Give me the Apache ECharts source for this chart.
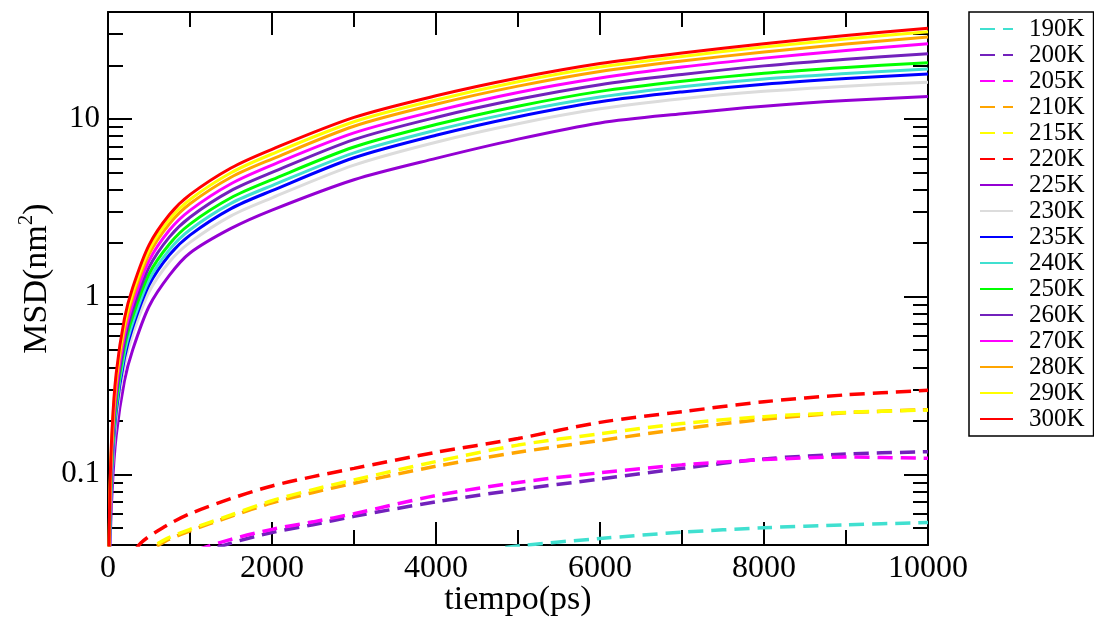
<!DOCTYPE html>
<html><head><meta charset="utf-8">
<script src="https://cdn.jsdelivr.net/npm/echarts@6/dist/echarts.min.js"></script>
<style>html,body{margin:0;padding:0;background:#fff}#c{width:1094px;height:618px}</style>
</head><body><div id="c"></div>
<script>
// ---------- data ----------
const labels = ['190K','200K','205K','210K','215K','220K','225K','230K','235K','240K','250K','260K','270K','280K','290K','300K'];
const yTickLabels = ['0.1','1','10'];
const tDashed = [200, 400, 700, 1000, 1500, 2000, 2500, 3000, 4000, 5000, 6000, 7000, 8000, 9000, 10000];
const tSolid  = [5, 20, 50, 100, 200, 300, 500, 750, 1000, 1500, 2000, 3000, 4000, 5000, 6000, 7000, 8000, 9000, 10000];

const v190K = [0.008, 0.011, 0.015, 0.018, 0.022, 0.025, 0.028, 0.030, 0.034, 0.0395, 0.0435, 0.0472, 0.050, 0.052, 0.0535];
const v200K = [0.017, 0.022, 0.028, 0.034, 0.041, 0.047, 0.052, 0.058, 0.070, 0.082, 0.094, 0.108, 0.122, 0.130, 0.134];
const v205K = [0.018, 0.023, 0.029, 0.036, 0.043, 0.049, 0.054, 0.060, 0.076, 0.090, 0.102, 0.113, 0.121, 0.125, 0.123];
const v210K = [0.026, 0.034, 0.042, 0.048, 0.058, 0.069, 0.079, 0.089, 0.111, 0.133, 0.155, 0.180, 0.204, 0.222, 0.231];
const v215K = [0.027, 0.035, 0.043, 0.049, 0.059, 0.071, 0.082, 0.093, 0.118, 0.146, 0.169, 0.193, 0.211, 0.223, 0.230];
const v220K = [0.030, 0.041, 0.051, 0.060, 0.073, 0.086, 0.097, 0.108, 0.133, 0.159, 0.196, 0.225, 0.256, 0.280, 0.297];

const v225K = [0.008, 0.031, 0.08, 0.165, 0.335, 0.50, 0.88, 1.32, 1.76, 2.42, 3.07, 4.55, 6.0, 7.7, 9.5, 10.7, 11.8, 12.7, 13.4];
const v230K = [0.010, 0.039, 0.10, 0.205, 0.41, 0.61, 1.06, 1.57, 2.02, 2.85, 3.6, 5.5, 7.4, 9.4, 11.4, 13.0, 14.3, 15.3, 16.1];
const v235K = [0.011, 0.043, 0.11, 0.225, 0.45, 0.67, 1.16, 1.72, 2.22, 3.13, 3.95, 6.05, 8.1, 10.3, 12.5, 14.2, 15.7, 16.9, 17.9];
const v240K = [0.0115, 0.046, 0.118, 0.24, 0.48, 0.71, 1.24, 1.84, 2.38, 3.35, 4.22, 6.45, 8.65, 11.0, 13.3, 15.2, 16.8, 18.0, 19.1];
const v250K = [0.012, 0.049, 0.126, 0.255, 0.52, 0.77, 1.34, 1.98, 2.56, 3.6, 4.55, 6.95, 9.3, 11.8, 14.3, 16.3, 18.1, 19.5, 20.7];
const v260K = [0.013, 0.053, 0.137, 0.28, 0.56, 0.84, 1.46, 2.17, 2.8, 3.95, 5.0, 7.65, 10.2, 12.9, 15.6, 17.8, 19.9, 21.7, 23.3];
const v270K = [0.014, 0.057, 0.148, 0.30, 0.61, 0.91, 1.59, 2.37, 3.06, 4.32, 5.5, 8.35, 11.1, 14.1, 17.0, 19.6, 22.0, 24.3, 26.5];
const v280K = [0.0155, 0.062, 0.16, 0.33, 0.66, 0.99, 1.73, 2.57, 3.33, 4.7, 5.95, 9.1, 12.1, 15.3, 18.5, 21.2, 23.8, 26.4, 28.9];
const v290K = [0.0165, 0.066, 0.17, 0.35, 0.70, 1.05, 1.83, 2.72, 3.52, 4.98, 6.35, 9.65, 12.8, 16.2, 19.6, 22.5, 25.4, 28.2, 31.0];
const v300K = [0.018, 0.07, 0.18, 0.37, 0.75, 1.12, 1.95, 2.9, 3.75, 5.3, 6.75, 10.2, 13.5, 17.0, 20.5, 23.5, 26.5, 29.5, 32.4];

// ---------- styles ----------
const values = [v190K, v200K, v205K, v210K, v215K, v220K, v225K, v230K, v235K, v240K, v250K, v260K, v270K, v280K, v290K, v300K];
const colors = ['#40E0D0','#7221BC','#FF00FF','#FFA500','#FFFF00','#FF0000','#9400D3','#DCDCDC','#0000FF','#40E0D0','#00FF00','#7221BC','#FF00FF','#FFA500','#FFFF00','#FF0000'];
const dashed = [true,true,true,true,true,true,false,false,false,false,false,false,false,false,false,false];

const FONT = "'Liberation Serif', 'Times New Roman', serif";
const BLACK = '#000';

const series = labels.map((name, i) => {
  const ts = dashed[i] ? tDashed : tSolid;
  return {
    type: 'line', name: name,
    data: ts.map((t, k) => [t, values[i][k]]),
    xAxisIndex: 0, yAxisIndex: 0,
    symbol: 'none', showSymbol: false, smooth: 0.3, clip: true, silent: true,
    lineStyle: { color: colors[i], width: dashed[i] ? 3.5 : 3, type: dashed[i] ? [15, 8] : 'solid' },
    itemStyle: { color: colors[i] },
    emphasis: { disabled: true }
  };
});

const tickLine = { color: BLACK, width: 2 };
const xBase = {
  type: 'value', min: 0, max: 10000, interval: 2000,
  axisLine: { show: true, onZero: false, lineStyle: tickLine },
  axisTick: { show: true, inside: true, length: 23, lineStyle: tickLine },
  minorTick: { show: true, splitNumber: 2, length: 15, lineStyle: tickLine },
  splitLine: { show: false }, minorSplitLine: { show: false }
};
const yBase = {
  type: 'log', logBase: 10, min: 0.04, max: 40,
  axisLine: { show: true, onZero: false, lineStyle: tickLine },
  axisTick: { show: true, inside: true, length: 24, lineStyle: tickLine },
  minorTick: { show: true, splitNumber: 9, length: 15, lineStyle: tickLine },
  splitLine: { show: false }, minorSplitLine: { show: false }
};

const option = {
  animation: false,
  backgroundColor: '#fff',
  grid: { left: 108, right: 166, top: 12, bottom: 73, containLabel: false, outerBoundsMode: 'none' },
  legend: {
    orient: 'vertical', left: 969, top: 12,
    itemWidth: 33, itemHeight: 12, itemGap: 0,
    padding: [4, 9, 4, 10],
    borderColor: BLACK, borderWidth: 1.5, borderRadius: 0, backgroundColor: '#fff',
    selectedMode: false,
    itemStyle: { opacity: 0 },
    textStyle: { fontFamily: FONT, fontSize: 25, color: BLACK, lineHeight: 26, padding: [0, 0, 0, 11] },
    data: labels
  },
  xAxis: [
    Object.assign({}, xBase, {
      position: 'bottom',
      name: 'tiempo(ps)', nameLocation: 'middle', nameGap: 38, nameMoveOverlap: false,
      nameTextStyle: { fontFamily: FONT, fontSize: 34, color: BLACK },
      axisLabel: { show: true, fontFamily: FONT, fontSize: 32, color: BLACK, margin: 8,
        formatter: function (v) { return String(v); } }
    }),
    Object.assign({}, xBase, { position: 'top', axisLabel: { show: false } })
  ],
  yAxis: [
    Object.assign({}, yBase, {
      position: 'left',
      name: '{a|MSD(nm}{s|2}{a|)}', nameLocation: 'middle', nameGap: 50, nameMoveOverlap: false,
      nameTextStyle: {
        fontFamily: FONT, fontSize: 34, color: BLACK,
        rich: {
          a: { fontFamily: FONT, fontSize: 34, color: BLACK, lineHeight: 42 },
          s: { fontFamily: FONT, fontSize: 21, color: BLACK, lineHeight: 21, verticalAlign: 'top' }
        }
      },
      axisLabel: {
        show: true, fontFamily: FONT, fontSize: 31, color: BLACK, margin: 8,
        showMinLabel: false, showMaxLabel: false,
        formatter: function (v) {
          const s = String(v);
          return yTickLabels.indexOf(s) >= 0 ? s : '';
        }
      }
    }),
    Object.assign({}, yBase, { position: 'right', axisLabel: { show: false } })
  ],
  series: series
};

const chart = echarts.init(document.getElementById('c'), null, { renderer: 'canvas' });
chart.setOption(option);
</script>
</body></html>
